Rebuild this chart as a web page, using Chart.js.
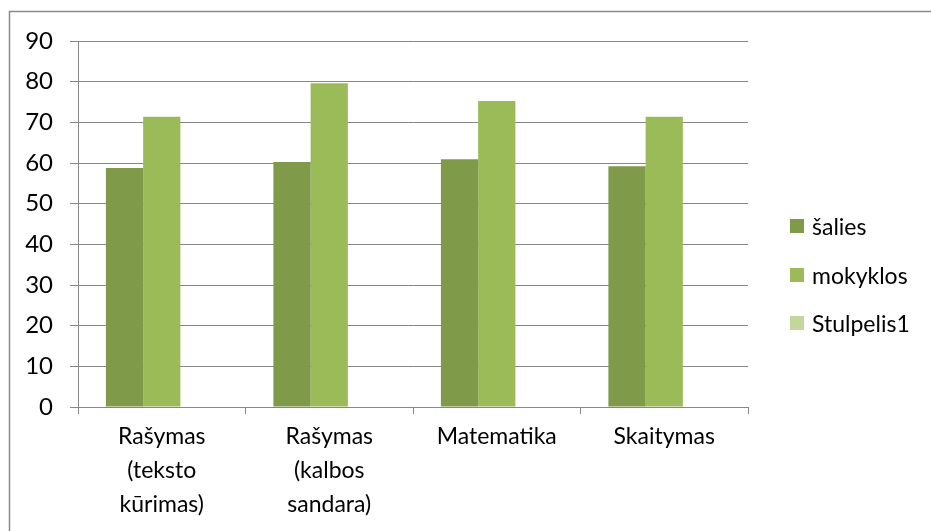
<!DOCTYPE html>
<html>
<head>
<meta charset="utf-8">
<script src="https://cdn.jsdelivr.net/npm/chart.js@4"></script>
<style>
  html, body { margin: 0; padding: 0; background: #fff; }
  #wrap { position: relative; width: 931px; height: 531px; overflow: hidden; }
  #c { position: absolute; left: 0; top: 0; }
  .lg { position: absolute; left: 790px; height: 24px; display: flex; align-items: center;
        font-family: Lato, "Open Sans", sans-serif; font-size: 23px; color: #000; white-space: nowrap; }
  .lg i { display: inline-block; width: 14px; height: 14px; margin-right: 8px; }
</style>
</head>
<body>
<div id="wrap">
  <canvas id="c" width="931" height="531"></canvas>
</div>
<script>
const categories = [
  ['Rašymas', '(teksto', 'kūrimas)'],
  ['Rašymas', '(kalbos', 'sandara)'],
  'Matematika',
  'Skaitymas'
];
const seriesNames = ['šalies', 'mokyklos', 'Stulpelis1'];
const salies = [58.8, 60.25, 60.9, 59.2];
const mokyklos = [71.4, 79.6, 75.25, 71.4];
const stulpelis1 = [null, null, null, null];
const yTicks = [0, 10, 20, 30, 40, 50, 60, 70, 80, 90];
const colors = ['#7f9a48', '#9bbb59', '#c3d69b'];

const FONT = 'Lato, "Open Sans", sans-serif';
const gridColor = '#878787';

const borderPlugin = {
  id: 'frame',
  afterDraw(chart) {
    const ctx = chart.ctx;
    ctx.save();
    ctx.strokeStyle = '#8a8a8a';
    ctx.lineWidth = 1.5;
    ctx.beginPath();
    ctx.moveTo(9.5, 531);
    ctx.lineTo(9.5, 11.5);
    ctx.lineTo(931, 11.5);
    ctx.stroke();
    ctx.restore();
  }
};

const chart = new Chart(document.getElementById('c'), {
  type: 'bar',
  data: {
    labels: categories,
    datasets: [
      { label: seriesNames[0], data: salies, backgroundColor: colors[0] },
      { label: seriesNames[1], data: mokyklos, backgroundColor: colors[1] },
      { label: seriesNames[2], data: stulpelis1, backgroundColor: colors[2] }
    ]
  },
  options: {
    responsive: false,
    animation: false,
    devicePixelRatio: 1,
    layout: { padding: { left: 0, right: 183, top: 41, bottom: 0 } },
    datasets: { bar: { categoryPercentage: 0.667, barPercentage: 1.0, borderWidth: 0 } },
    plugins: {
      legend: { display: false },
      tooltip: { enabled: false },
      title: { display: false }
    },
    scales: {
      x: {
        afterFit(scale) { scale.height = 124; },
        grid: {
          display: true,
          drawOnChartArea: false,
          drawTicks: true,
          tickLength: 7,
          color: gridColor,
          offset: true
        },
        border: { display: true, color: gridColor, width: 1 },
        ticks: {
          color: '#000',
          padding: 6,
          maxRotation: 0,
          autoSkip: false,
          font: { family: FONT, size: 23, lineHeight: '34px' }
        }
      },
      y: {
        min: 0,
        max: 90,
        afterFit(scale) { scale.width = 78; },
        afterBuildTicks(scale) { scale.ticks = yTicks.map(v => ({ value: v })); },
        grid: {
          color: gridColor,
          lineWidth: 1,
          drawTicks: true,
          tickLength: 8
        },
        border: { display: true, color: gridColor, width: 1 },
        ticks: {
          color: '#000',
          padding: 17,
          font: { family: FONT, size: 24 }
        }
      }
    }
  },
  plugins: [borderPlugin]
});

// HTML legend built from the chart's datasets
const wrap = document.getElementById('wrap');
const legendCenters = [226, 274.5, 323];
chart.data.datasets.forEach((ds, i) => {
  const d = document.createElement('div');
  d.className = 'lg';
  d.style.top = (legendCenters[i] - 12) + 'px';
  const sw = document.createElement('i');
  sw.style.background = ds.backgroundColor;
  d.appendChild(sw);
  d.appendChild(document.createTextNode(ds.label));
  wrap.appendChild(d);
});
</script>
</body>
</html>
